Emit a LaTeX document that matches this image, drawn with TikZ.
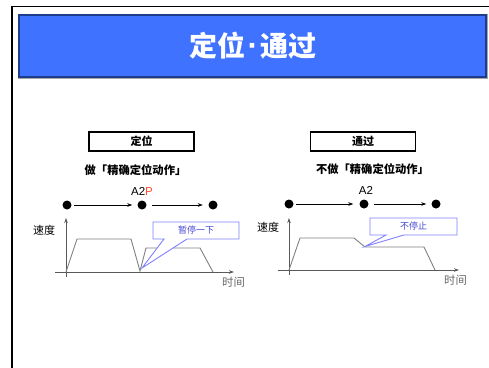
\documentclass[tikz,border=0pt]{standalone}
\usepackage{fontspec}
\setmainfont{Liberation Sans}
\newfontfamily\cjk{Noto Sans CJK SC}
\usetikzlibrary{arrows.meta}
\definecolor{bannerblue}{HTML}{3F72FF}
\definecolor{bannernavy}{HTML}{1E3C8C}
\definecolor{callblue}{HTML}{8080FF}
\definecolor{calltext}{HTML}{4848D8}
\definecolor{profgray}{HTML}{808080}
\definecolor{pred}{HTML}{FF4B2B}
\tikzset{
  modebox/.style={draw=black,line width=1.8pt,fill=white,minimum width=105pt,minimum height=19pt,inner sep=0pt,font=\cjk\bfseries\fontsize{11}{13}\selectfont},
  headtxt/.style={inner sep=0pt,font=\cjk\bfseries\fontsize{11.3}{13}\selectfont},
  ptdot/.style={circle,fill=black,minimum size=9pt,inner sep=0pt},
  movearrow/.style={-{Stealth[length=5pt,width=3.5pt]},line width=0.9pt,black},
  axisarrow/.style={-{Stealth[length=5pt,width=3.5pt]},line width=0.8pt,draw=black!65},
  profile/.style={line width=0.9pt,draw=profgray},
  axlabel/.style={inner sep=0pt,font=\cjk\fontsize{11}{13}\selectfont},
  timelabel/.style={inner sep=0pt,text=black!60,font=\cjk\fontsize{11.3}{13}\selectfont},
  callout/.style={draw=callblue,line width=0.9pt,fill=white},
  calltxt/.style={inner sep=0pt,text=calltext,font=\cjk\fontsize{9}{11}\selectfont},
}
\begin{document}
\begin{tikzpicture}[x=1pt,y=-1pt]
\useasboundingbox (0,0) rectangle (489,367);
% page frame
\draw[line width=1.5pt,black] (12,370) -- (12,6.5) -- (492,6.5);
% banner
\draw[line width=1pt,black!35] (18.2,14.2) rectangle (487.3,78);
\node[draw=bannernavy,line width=1.2pt,fill=bannerblue,minimum width=467pt,minimum height=62pt,inner sep=0pt] (banner) at (252.5,46) {};
\node[inner sep=0pt,text=white,font=\cjk\bfseries\fontsize{28}{30}\selectfont] (title) at (253,46) {定位\kern2pt{\normalfont\bfseries\fontsize{32}{30}\selectfont ·}\kern2pt 通过};

% ===== left panel =====
\node[modebox] (boxL) at (141.5,141.5) {定位};
\node[headtxt] (headL) at (135.5,170) {做「精确定位动作」};
\node[inner sep=0pt,font=\fontsize{11.5}{13}\selectfont] (a2pL) at (142,191.5) {A2\textcolor{pred}{P}};
\node[ptdot] (dL1) at (67,205) {};
\node[ptdot] (dL2) at (142,205) {};
\node[ptdot] (dL3) at (213,205) {};
\draw[movearrow,shorten <=2.5pt,shorten >=5pt] (dL1) -- (dL2);
\draw[movearrow,shorten <=5.5pt,shorten >=5.5pt] (dL2) -- (dL3);
\coordinate (yL) at (66,218);
\coordinate (yLb) at (66,277);
\coordinate (xL) at (234,272);
\coordinate (xLb) at (55,272);
\draw[axisarrow] (yLb) -- (yL);
\draw[axisarrow] (xLb) -- (xL);
\node[axlabel] (vL) at (44,230) {速度};
\node[timelabel] (tL) at (233.5,282.5) {时间};
\draw[profile] (66,272) -- (77,239) -- (131,239) -- (140,271) -- (146,248) -- (200,248) -- (213,272);
\draw[callout] (153,222) -- (239,222) -- (239,239) -- (187,239) -- (142,268) -- (164,239) -- (153,239) -- cycle;
\node[calltxt] (cL) at (196,230.5) {暂停一下};

% ===== right panel =====
\node[modebox] (boxR) at (363,141.5) {通过};
\node[headtxt] (headR) at (372.5,169.5) {不做「精确定位动作」};
\node[inner sep=0pt,font=\fontsize{11.5}{13}\selectfont] (a2R) at (366,190) {A2};
\node[ptdot] (dR1) at (289,204) {};
\node[ptdot] (dR2) at (364,204) {};
\node[ptdot] (dR3) at (436,204) {};
\draw[movearrow,shorten <=2.5pt,shorten >=6pt] (dR1) -- (dR2);
\draw[movearrow,shorten <=5.5pt,shorten >=5pt] (dR2) -- (dR3);
\coordinate (yR) at (289,218);
\coordinate (yRb) at (289,275);
\coordinate (xR) at (459,270);
\coordinate (xRb) at (278,270);
\draw[axisarrow] (yRb) -- (yR);
\draw[axisarrow] (xRb) -- (xR);
\node[axlabel] (vR) at (268,227.5) {速度};
\node[timelabel] (tR) at (455.5,280.5) {时间};
\draw[profile] (289,270) -- (300,238) -- (354,238) -- (365,247) -- (424,247) -- (435,270);
\draw[callout] (370,218) -- (457,218) -- (457,235) -- (404,235) -- (365,246.5) -- (386,235) -- (370,235) -- cycle;
\node[calltxt] (cR) at (413.5,226.5) {不停止};
\end{tikzpicture}
\end{document}
